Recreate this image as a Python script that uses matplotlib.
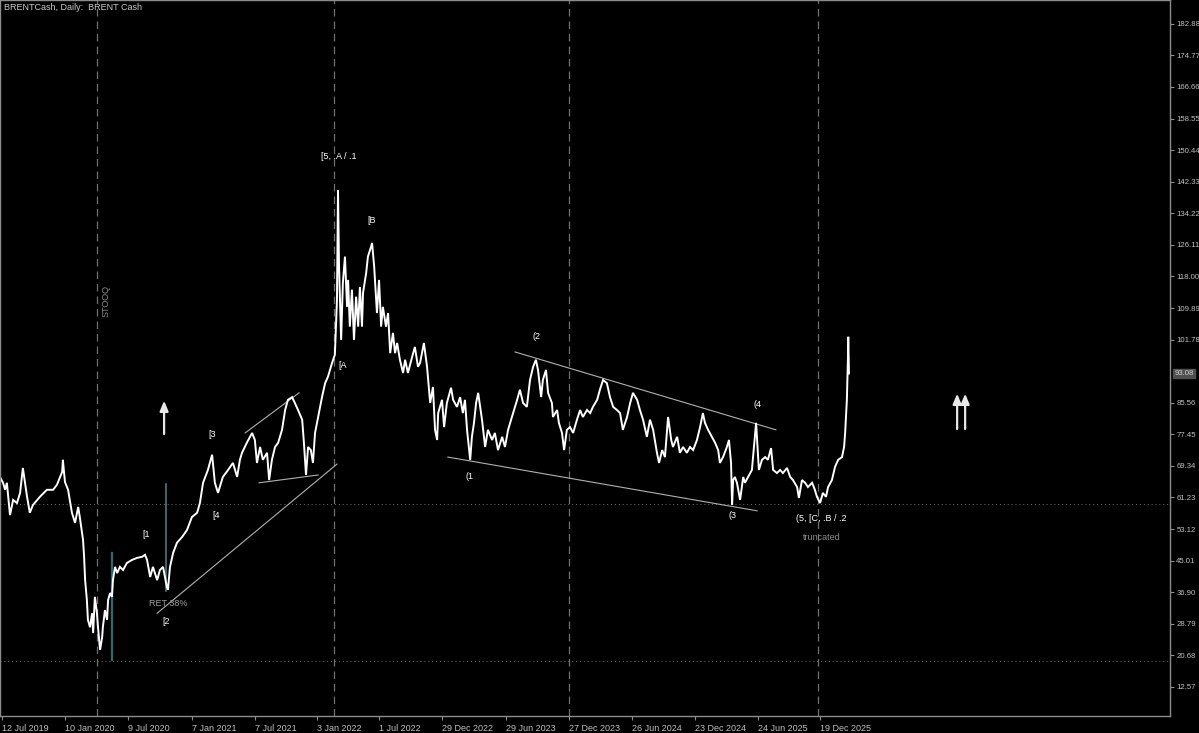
import matplotlib
matplotlib.use('Agg')
import matplotlib.pyplot as plt
import pandas as pd

plt.rcParams['font.family'] = ['Liberation Sans', 'DejaVu Sans']

# start of the day count
start = pd.Timestamp('2019-07-12')

# days since start, close price
days = [-5, 3, 9, 14, 23, 32, 43, 52, 60, 72, 80, 89, 109, 129, 147, 158, 173, 175, 181, 190,
        201, 210, 219, 224, 233, 236, 239, 244, 247, 253, 259, 262, 267, 273, 276, 282, 288, 290,
        296, 302, 305, 311, 316, 319, 325, 331, 339, 348, 359, 374, 388, 403, 411, 417, 426, 434,
        446, 454, 463, 474, 477, 483, 492, 503, 518, 532, 546, 561, 569, 578, 592, 604, 612, 621,
        635, 650, 664, 676, 684, 690, 704, 719, 727, 733, 742, 750, 762, 768, 776, 785, 794, 805,
        814, 822, 834, 842, 851, 863, 868, 874, 880, 888, 894, 900, 909, 920, 929, 937, 949, 957,
        963, 966, 969, 975, 980, 986, 992, 995, 1000, 1006, 1012, 1018, 1024, 1029, 1035, 1038,
        1047, 1052, 1061, 1064, 1070, 1075, 1078, 1084, 1090, 1095, 1104, 1110, 1116, 1124, 1130,
        1136, 1144, 1153, 1159, 1167, 1179, 1187, 1196, 1202, 1213, 1222, 1231, 1239, 1245, 1251,
        1254, 1265, 1271, 1279, 1291, 1297, 1308, 1317, 1325, 1331, 1337, 1346, 1351, 1357, 1363,
        1369, 1380, 1389, 1397, 1409, 1417, 1426, 1438, 1446, 1455, 1466, 1481, 1489, 1498, 1509,
        1518, 1527, 1535, 1541, 1550, 1555, 1564, 1570, 1581, 1584, 1596, 1601, 1610, 1616, 1624,
        1633, 1642, 1653, 1662, 1670, 1682, 1691, 1699, 1711, 1719, 1728, 1739, 1748, 1757, 1768,
        1777, 1785, 1797, 1806, 1814, 1826, 1834, 1843, 1854, 1863, 1872, 1883, 1889, 1898, 1906,
        1915, 1924, 1929, 1941, 1949, 1958, 1969, 1978, 1987, 1998, 2007, 2015, 2021, 2030, 2041,
        2050, 2059, 2064, 2073, 2084, 2090, 2096, 2099, 2102, 2107, 2113, 2122, 2131, 2136, 2145,
        2156, 2162, 2168, 2171, 2176, 2185, 2194, 2202, 2211, 2217, 2228, 2237, 2245, 2257, 2266,
        2274, 2286, 2291, 2300, 2309, 2317, 2329, 2337, 2343, 2352, 2360, 2369, 2375, 2386, 2395,
        2404, 2415, 2421, 2424, 2429, 2432, 2433, 2435]
close = [66.3, 65.0, 63.2, 65.0, 56.7, 60.6, 59.8, 62.4, 68.8, 61.4, 57.3, 59.3, 61.4, 63.2, 63.2,
         64.5, 67.8, 70.9, 65.2, 63.2, 57.3, 54.7, 58.8, 56.0, 50.3, 46.0, 40.0, 34.9, 29.8, 27.9,
         31.5, 26.4, 35.7, 31.5, 27.9, 22.1, 25.4, 27.9, 32.3, 29.8, 34.9, 36.7, 35.7, 40.0, 43.4,
         41.8, 43.4, 42.6, 44.4, 45.2, 45.7, 46.0, 46.5, 45.2, 40.8, 43.4, 40.0, 42.6, 43.4, 38.2,
         37.5, 43.4, 47.0, 49.6, 51.1, 52.9, 56.2, 57.3, 59.8, 65.0, 68.3, 72.2, 65.0, 62.4, 66.5,
         68.3, 70.1, 66.5, 70.9, 72.7, 75.3, 77.8, 76.0, 70.1, 74.2, 70.9, 72.7, 65.7, 70.9, 74.2,
         75.3, 78.6, 83.7, 86.3, 87.0, 85.5, 83.7, 81.2, 75.3, 67.0, 74.2, 73.4, 70.1, 77.8, 81.9,
         87.0, 90.6, 92.2, 95.8, 97.9, 111.9, 140.2, 120.5, 101.7, 116.3, 123.1, 110.2, 117.1,
         105.1, 114.6, 101.7, 112.8, 105.1, 115.3, 105.1, 113.8, 118.9, 123.1, 125.6, 126.6, 120.5,
         112.8, 108.6, 117.1, 105.1, 110.2, 105.1, 108.6, 98.3, 103.5, 98.3, 100.9, 96.6, 93.2,
         96.6, 93.2, 97.3, 99.9, 94.8, 95.8, 100.9, 94.8, 85.5, 89.6, 78.6, 76.0, 82.9, 86.3, 79.3,
         85.5, 89.4, 86.3, 84.5, 87.0, 82.9, 86.3, 78.6, 70.9, 76.8, 80.4, 85.5, 88.1, 81.2, 74.2,
         78.6, 76.0, 77.8, 73.4, 76.8, 74.2, 78.6, 81.9, 86.3, 88.9, 85.5, 84.5, 91.4, 94.8, 96.6,
         94.0, 87.0, 91.4, 94.0, 88.1, 85.5, 81.9, 83.7, 80.4, 77.8, 73.4, 78.6, 79.3, 77.8, 81.2,
         83.7, 81.9, 83.7, 82.9, 84.5, 86.3, 88.9, 91.4, 90.6, 87.0, 84.5, 83.7, 82.9, 78.6, 81.9,
         85.5, 88.1, 86.3, 83.7, 81.2, 76.8, 81.2, 78.6, 72.7, 70.1, 73.4, 71.6, 81.9, 76.0, 74.2,
         76.8, 72.7, 74.2, 72.7, 74.2, 73.4, 76.0, 79.3, 82.9, 80.4, 78.6, 76.8, 75.3, 73.4, 70.1,
         71.6, 74.2, 76.0, 70.1, 59.3, 65.7, 66.5, 65.0, 60.6, 66.5, 65.0, 66.5, 68.3, 74.2, 80.4,
         76.0, 68.3, 70.9, 71.6, 70.9, 73.9, 68.3, 67.5, 68.3, 67.5, 68.8, 66.5, 65.7, 63.9, 61.1,
         65.7, 65.0, 63.9, 65.0, 63.2, 61.4, 59.8, 62.4, 61.4, 63.9, 65.7, 69.1, 70.9, 71.6, 74.2,
         77.8, 86.3, 96.6, 102.5, 93.1]

last_price = 93.08
y_ticks = [12.57, 20.68, 28.79, 36.90, 45.01, 53.12, 61.23, 69.34, 77.45, 85.56,
           101.78, 109.89, 118.00, 126.11, 134.22, 142.33, 150.44, 158.55, 166.66, 174.77, 182.88]
x_tick_dates = ['12 Jul 2019', '10 Jan 2020', '9 Jul 2020', '7 Jan 2021', '7 Jul 2021',
                '3 Jan 2022', '1 Jul 2022', '29 Dec 2022', '29 Jun 2023', '27 Dec 2023',
                '26 Jun 2024', '23 Dec 2024', '24 Jun 2025', '19 Dec 2025']

# chart objects: (day, price) pairs
trend_lines = [
    [(699, 77.8), (854, 88.1)],
    [(739, 65.0), (909, 67.0)],
    [(446, 31.5), (963, 69.8)],
    [(1475, 98.6), (2225, 78.6)],
    [(1282, 71.6), (2171, 57.8)],
]
wave_labels = [
    ('[5, .A / .1', 969, 148.7), ('[B', 1064, 132.3), ('[A', 980, 95.0), ('[1', 414, 51.6),
    ('[2', 472, 29.5), ('[3', 604, 77.3), ('[4', 615, 56.7), ('(1', 1343, 66.5),
    ('(2', 1538, 102.5), ('(3', 2099, 56.7), ('(4', 2171, 85.0), ('(5, [C, .B / .2', 2355, 55.9),
]
vlines_dashed = [273, 955, 1630, 2346]
hlines_dotted = [59.6, 19.2]

fig = plt.figure(figsize=(11.99, 7.33), dpi=100, facecolor='black')
ax = fig.add_axes([0.0, 17 / 733, 1170 / 1199, 1 - 17 / 733])
ax.set_facecolor('black')

grey = '#8c8c8c'
for s in ax.spines.values():
    s.set_color(grey)
    s.set_linewidth(1.0)

for v in vlines_dashed:
    ax.axvline(v, color='#707070', lw=0.9, ls=(0, (6, 4)))
for h in hlines_dotted:
    ax.axhline(h, color='#707070', lw=0.7, ls=(0, (1, 3)))

# teal / grey vertical markers
ax.plot([316, 316], [19.5, 47.0], color='#2e6b6b', lw=1.6)
ax.plot([472, 472], [37.2, 64.7], color='#4e7a7a', lw=1.2)

for ln in trend_lines:
    ax.plot([p[0] for p in ln], [p[1] for p in ln], color='#b0b0b0', lw=0.8)

ax.plot(days, close, color='white', lw=1.4, solid_joinstyle='miter')

for txt, dx, py in wave_labels:
    ax.text(dx, py, txt, color='white', fontsize=6.5, ha='center', va='center')
ax.text(477, 33.9, 'RET 38%', color='#a0a0a0', fontsize=6.5, ha='center', va='center')
ax.text(2358, 51.0, 'truncated', color='#8c8c8c', fontsize=6.5, ha='center', va='center')
ax.text(299, 111.8, 'STOOQ', color='#8c8c8c', fontsize=6.5, ha='center', va='center', rotation=90)

arrow = dict(arrowstyle='-|>,head_width=0.25,head_length=0.6', color='#e8e8e8', lw=1.6)
ax.annotate('', xy=(466, 86.8), xytext=(466, 76.8), arrowprops=arrow)
ax.annotate('', xy=(2746, 88.6), xytext=(2746, 78.1), arrowprops=arrow)
ax.annotate('', xy=(2769, 88.6), xytext=(2769, 78.1), arrowprops=arrow)

ax.set_xlim(-5.75, 3358)
ax.set_ylim(5.1, 189.0)

xt = [(pd.Timestamp(d) - start).days for d in x_tick_dates]
ax.set_xticks(xt)
ax.set_xticklabels(x_tick_dates, ha='left')
ax.set_yticks(y_ticks)
ax.set_yticklabels(['%.2f' % v for v in y_ticks])
ax.yaxis.tick_right()
ax.tick_params(axis='both', colors=grey, labelcolor='#c0c0c0', length=3, width=0.8)
ax.tick_params(axis='x', pad=3, labelsize=6.5)
ax.tick_params(axis='y', pad=1.5, labelsize=5.6)

ax.text(1.004, (last_price - 5.1) / (189.0 - 5.1), '%.2f' % last_price, transform=ax.transAxes,
        color='#d0d0d0', fontsize=5.6, ha='left', va='center',
        bbox=dict(facecolor='#505050', edgecolor='#505050', pad=1.0))

fig.text(4 / 1199, 1 - 8 / 733, 'BRENTCash, Daily:  BRENT Cash', color='#c8c8c8', fontsize=6.5,
         ha='left', va='center')

fig.savefig('out.png', dpi=100, facecolor='black')
